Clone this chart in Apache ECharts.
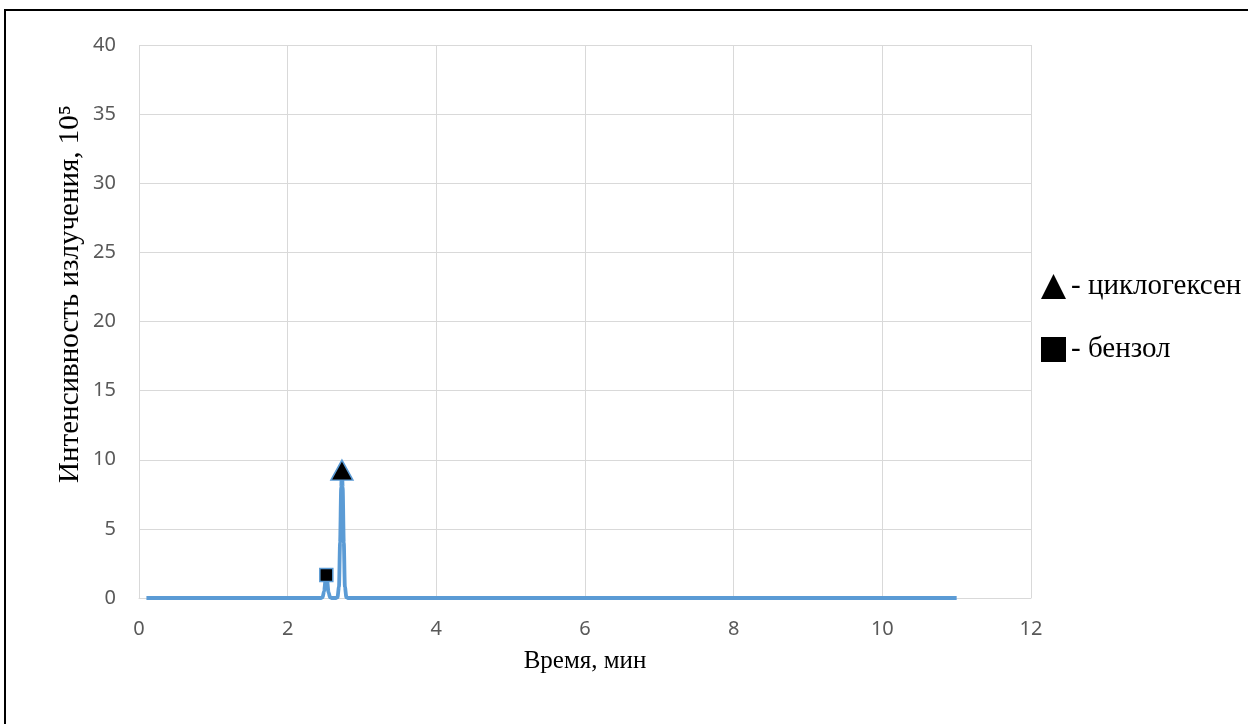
<!DOCTYPE html>
<html><head><meta charset="utf-8">
<script src="https://cdn.jsdelivr.net/npm/echarts@6/dist/echarts.min.js"></script>
<style>html,body{margin:0;padding:0;background:#fff}#c{width:1248px;height:724px}</style>
</head><body><div id="c"></div>
<script>
const times = [0.1, 2.0, 2.44, 2.47, 2.49, 2.51, 2.52, 2.53, 2.55, 2.57, 2.60, 2.64, 2.67, 2.69, 2.705, 2.72, 2.73, 2.74, 2.755, 2.77, 2.79, 2.82, 3.7, 11.0];
const intensity = [0, 0, 0, 0.05, 0.5, 1.3, 1.6, 1.3, 0.4, 0.05, 0, 0, 0.05, 0.8, 4.0, 8.0, 9.25, 8.0, 4.0, 0.8, 0.05, 0, 0, 0];
const peakNames = ['- циклогексен', '- бензол'];
const peakTimes = [2.73, 2.52];
const peakValues = [9.25, 1.66];
const xTicks = [0, 2, 4, 6, 8, 10, 12];
const yTicks = [0, 5, 10, 15, 20, 25, 30, 35, 40];

const serif = '"Liberation Serif", "Times New Roman", serif';
const sans = '"Noto Sans", "Liberation Sans", sans-serif';
const chart = echarts.init(document.getElementById('c'), null, {renderer: 'canvas'});
const lineData = times.map((t, i) => [t, intensity[i]]);
chart.setOption({
  animation: false,
  backgroundColor: '#fff',
  grid: {left: 139, right: 217, top: 45, bottom: 126},
  xAxis: {
    type: 'value', min: xTicks[0], max: xTicks[xTicks.length - 1], interval: 2,
    name: 'Время, мин', nameLocation: 'middle', nameGap: 51,
    nameTextStyle: {fontFamily: serif, fontSize: 25, color: '#000'},
    axisLine: {show: true, lineStyle: {color: '#D9D9D9', width: 1}},
    axisTick: {show: false},
    axisLabel: {fontFamily: sans, fontSize: 20, color: '#595959', margin: 21},
    splitLine: {show: true, lineStyle: {color: '#D9D9D9', width: 1}}
  },
  yAxis: {
    type: 'value', min: yTicks[0], max: yTicks[yTicks.length - 1], interval: 5,
    axisLine: {show: false},
    axisTick: {show: false},
    axisLabel: {fontFamily: sans, fontSize: 20, color: '#595959', margin: 23},
    splitLine: {show: true, lineStyle: {color: '#D9D9D9', width: 1}}
  },
  legend: {
    orient: 'vertical', left: 1036, top: 267, padding: 5,
    itemWidth: 25, itemHeight: 25, itemGap: 34,
    textStyle: {fontFamily: serif, fontSize: 29, color: '#000'},
    data: [
      {name: peakNames[0], icon: 'triangle', itemStyle: {color: '#000', borderWidth: 0}},
      {name: peakNames[1], icon: 'rect', itemStyle: {color: '#000', borderWidth: 0}}
    ]
  },
  graphic: [
    {type: 'rect', shape: {x: 5, y: 10, width: 1400, height: 900}, style: {fill: null, stroke: '#000', lineWidth: 2}, silent: true, z: 100},
    {type: 'text', x: 70, y: 294, rotation: Math.PI / 2,
     style: {text: 'Интенсивность излучения, 10⁵', font: '29px ' + serif, fill: '#000', textAlign: 'center', textVerticalAlign: 'middle'}}
  ],
  series: [
    {type: 'line', data: lineData, showSymbol: false, smooth: 0.3, smoothMonotone: 'x',
     lineStyle: {color: '#5B9BD5', width: 3.8}, itemStyle: {color: '#5B9BD5'}, z: 2},
    {type: 'scatter', name: peakNames[0], data: [[peakTimes[0], peakValues[0]]], symbol: 'triangle', symbolSize: [22, 20],
     itemStyle: {color: '#000', borderColor: '#5B9BD5', borderWidth: 1.5, opacity: 1}, z: 3},
    {type: 'scatter', name: peakNames[1], data: [[peakTimes[1], peakValues[1]]], symbol: 'rect', symbolSize: 13,
     itemStyle: {color: '#000', borderColor: '#5B9BD5', borderWidth: 1.5, opacity: 1}, z: 3}
  ]
});
</script></body></html>
